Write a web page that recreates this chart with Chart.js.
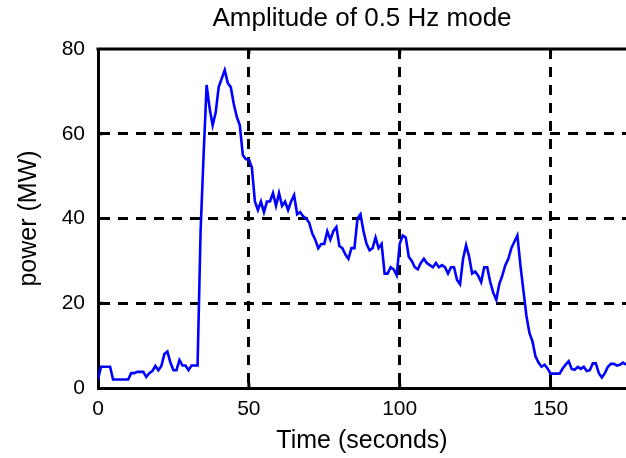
<!DOCTYPE html>
<html>
<head>
<meta charset="utf-8">
<script src="https://cdn.jsdelivr.net/npm/chart.js@4.4.1/dist/chart.umd.min.js"></script>
<style>
  html, body { margin: 0; padding: 0; background: #ffffff; }
  #wrap { width: 626px; height: 458px; }
</style>
</head>
<body>
<div id="wrap"><canvas id="c" width="626" height="458"></canvas></div>
<script>
const chartTitle = "Amplitude of 0.5 Hz mode";
const xAxisTitle = "Time (seconds)";
const yAxisTitle = "power (MW)";
const xTickValues = [0, 50, 100, 150];
const yTickValues = [0, 20, 40, 60, 80];

const timeSeconds = [
  0, 1, 2, 3, 4, 5, 6, 7, 8, 9,
  10, 11, 12, 13, 14, 15, 16, 17, 18, 19,
  20, 21, 22, 23, 24, 25, 26, 27, 28, 29,
  30, 31, 32, 33, 34, 35, 36, 37, 38, 39,
  40, 41, 42, 43, 44, 45, 46, 47, 48, 49,
  50, 51, 52, 53, 54, 55, 56, 57, 58, 59,
  60, 61, 62, 63, 64, 65, 66, 67, 68, 69,
  70, 71, 72, 73, 74, 75, 76, 77, 78, 79,
  80, 81, 82, 83, 84, 85, 86, 87, 88, 89,
  90, 91, 92, 93, 94, 95, 96, 97, 98, 99,
  100, 101, 102, 103, 104, 105, 106, 107, 108, 109,
  110, 111, 112, 113, 114, 115, 116, 117, 118, 119,
  120, 121, 122, 123, 124, 125, 126, 127, 128, 129,
  130, 131, 132, 133, 134, 135, 136, 137, 138, 139,
  140, 141, 142, 143, 144, 145, 146, 147, 148, 149,
  150, 151, 152, 153, 154, 155, 156, 157, 158, 159,
  160, 161, 162, 163, 164, 165, 166, 167, 168, 169,
  170, 171, 172, 173, 174, 175
];

const powerMW = [
  2, 5, 5, 5, 5, 2, 2, 2, 2, 2,
  2, 3.5, 3.5, 3.8, 3.8, 3.8, 2.6, 3.5, 4, 5.2,
  4.2, 5.2, 8, 8.6, 6, 4.2, 4.2, 6.6, 5.3, 5.3,
  4.2, 5.3, 5.3, 5.3, 37, 55, 71.5, 66, 62, 65,
  71, 73, 75, 72, 71, 67, 64, 62, 55, 54,
  54, 52, 44, 42, 44, 41.5, 44, 44, 46, 43,
  46, 43, 44, 42, 44, 45.5, 41, 41.5, 40.5, 40,
  39, 36.5, 35, 33, 34, 34, 37, 35, 37, 38,
  33.5, 33, 31.5, 30.5, 33, 33, 40, 41, 37, 34,
  32.5, 33, 35.5, 33, 34, 27, 27, 28.5, 28, 26.6,
  34, 36, 35.5, 31, 30, 28.5, 28, 29.5, 30.5, 29.5,
  29, 28.5, 29.5, 28.5, 29, 28.5, 27, 28.5, 28.5, 25.5,
  24.5, 30.5, 33.7, 31, 27, 27.5, 26.5, 25, 28.5, 28.5,
  25, 22.5, 20.8, 24.5, 26.5, 29, 30.5, 33, 34.5, 36,
  29, 23, 17, 13, 11, 7.5, 6, 5, 5.5, 4.6,
  3.4, 3.4, 3.4, 3.4, 4.6, 5.5, 6.3, 4.5, 4.3, 5,
  4.5, 5, 4, 4.2, 5.8, 5.8, 3.5, 2.5, 3.5, 5,
  5.7, 5.7, 5.3, 5.5, 6, 5.5
];

const FONT = "'Liberation Sans', Arial, Helvetica, sans-serif";

const points = timeSeconds.map((t, i) => ({ x: t, y: powerMW[i] }));

const frameAndTicks = {
  id: 'frameAndTicks',
  beforeDatasetsDraw(chart) {
    const { ctx, chartArea: a, scales } = chart;
    ctx.save();
    ctx.strokeStyle = '#000';
    ctx.lineWidth = 3;
    ctx.beginPath();
    ctx.moveTo(a.left - 1.5, a.top);
    ctx.lineTo(a.right + 2, a.top);
    ctx.stroke();
    xTickValues.forEach(v => {
      const px = scales.x.getPixelForValue(v);
      if (v === 0) return;
      ctx.beginPath();
      ctx.moveTo(px, a.top); ctx.lineTo(px, a.top + 5);
      ctx.moveTo(px, a.bottom); ctx.lineTo(px, a.bottom - 5);
      ctx.stroke();
    });
    yTickValues.forEach(v => {
      const py = scales.y.getPixelForValue(v);
      if (v === 0 || v === 80) return;
      ctx.beginPath();
      ctx.moveTo(a.left, py); ctx.lineTo(a.left + 5, py);
      ctx.stroke();
    });
    ctx.restore();
  }
};

new Chart(document.getElementById('c'), {
  type: 'line',
  data: {
    datasets: [{
      data: points,
      borderColor: '#0000ff',
      borderWidth: 2.6,
      pointRadius: 0,
      tension: 0,
      fill: false
    }]
  },
  options: {
    responsive: false,
    animation: false,
    layout: { padding: 0 },
    plugins: {
      legend: { display: false },
      tooltip: { enabled: false },
      title: {
        display: true,
        fullSize: false,
        text: chartTitle,
        color: '#000',
        font: { family: FONT, size: 26, weight: 'normal' },
        padding: { top: 3, bottom: 14.8 }
      }
    },
    scales: {
      x: {
        type: 'linear',
        min: 0,
        max: 175,
        afterFit(scale) { scale.height = 70; },
        afterBuildTicks(scale) { scale.ticks = xTickValues.map(v => ({ value: v })); },
        ticks: {
          color: '#000',
          font: { family: FONT, size: 21 },
          padding: 9,
          maxRotation: 0,
          autoSkip: false
        },
        grid: {
          drawTicks: false,
          lineWidth: 3,
          color: ctx => (ctx.tick && ctx.tick.value === 0) ? 'rgba(0,0,0,0)' : '#000'
        },
        border: { display: true, color: '#000', width: 3, dash: [10, 8] },
        title: {
          display: true,
          text: xAxisTitle,
          color: '#000',
          font: { family: FONT, size: 25 },
          padding: { top: 0, bottom: 2 }
        }
      },
      y: {
        type: 'linear',
        min: 0,
        max: 80,
        afterFit(scale) { scale.width = 98; },
        afterBuildTicks(scale) { scale.ticks = yTickValues.map(v => ({ value: v })); },
        ticks: {
          color: '#000',
          font: { family: FONT, size: 21 },
          padding: 13
        },
        grid: {
          drawTicks: false,
          lineWidth: 3,
          color: ctx => (ctx.tick && (ctx.tick.value === 0 || ctx.tick.value === 80)) ? 'rgba(0,0,0,0)' : '#000'
        },
        border: { display: true, color: '#000', width: 3, dash: [10, 8] },
        title: {
          display: true,
          text: yAxisTitle,
          color: '#000',
          font: { family: FONT, size: 25 },
          padding: { top: 14, bottom: 0 }
        }
      }
    }
  },
  plugins: [frameAndTicks]
});
</script>
</body>
</html>
